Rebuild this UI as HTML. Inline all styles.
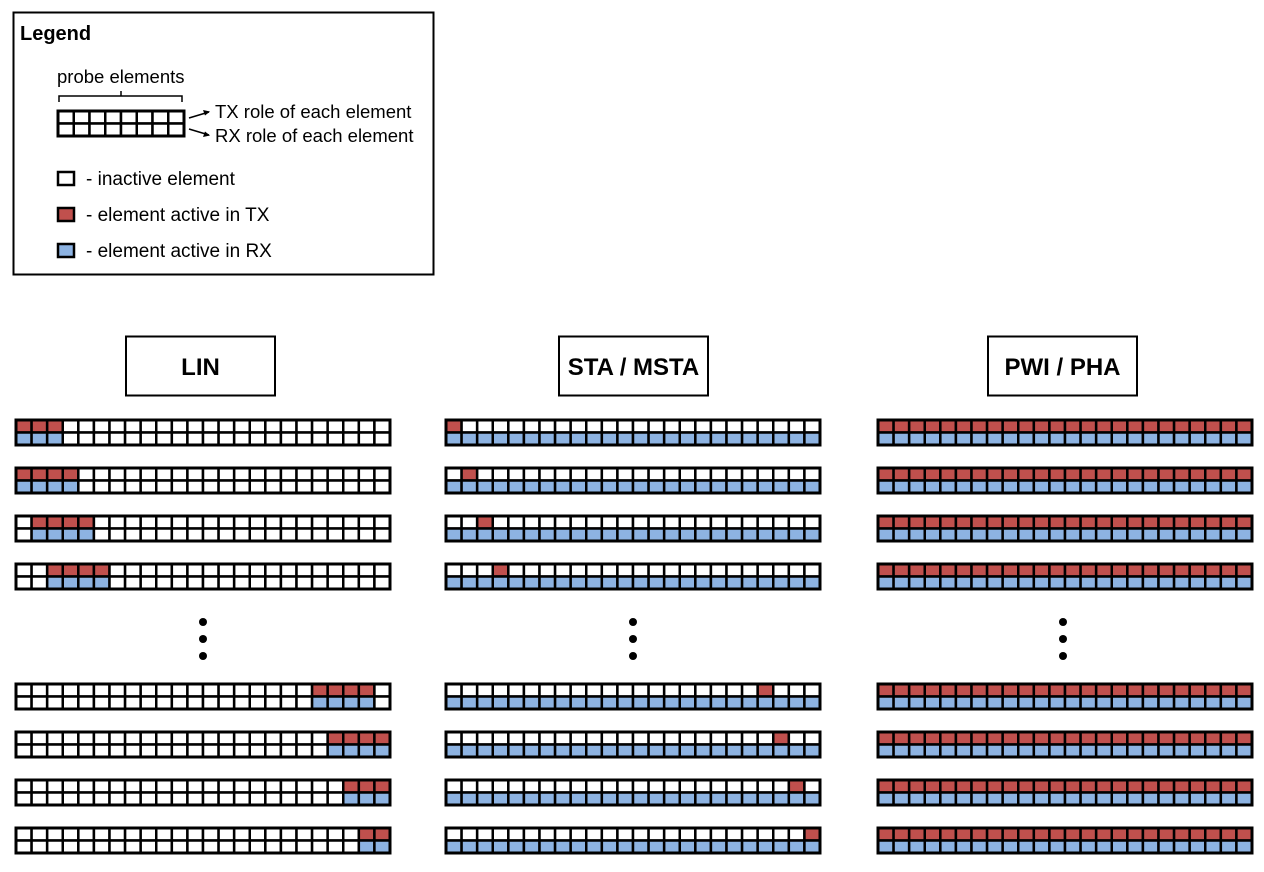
<!DOCTYPE html>
<html><head><meta charset="utf-8">
<style>
html,body{margin:0;padding:0;background:#fff;}
svg{display:block;}
text{font-family:"Liberation Sans",sans-serif;}
</style></head>
<body>
<svg id="s" width="1264" height="872" viewBox="0 0 1264 872" xmlns="http://www.w3.org/2000/svg">
<rect x="13.5" y="12.5" width="420" height="262" fill="#fff" stroke="#000" stroke-width="2"/>
<text x="20" y="40" font-size="20" font-weight="bold">Legend</text>
<text x="57" y="83" font-size="18.5">probe elements</text>
<path d="M59,102 V96 H121 V91 M121,96 H182 V102" fill="none" stroke="#000" stroke-width="1.5"/>
<g id="legarr"></g>
<path d="M189,118 L209,112" stroke="#000" stroke-width="1.5"/>
<path d="M210,111.5 L203,110 L205,115.5 Z" fill="#000"/>
<path d="M189,129 L209,135" stroke="#000" stroke-width="1.5"/>
<path d="M210,135.5 L205,131.5 L203,137 Z" fill="#000"/>
<text x="215" y="118" font-size="18.5">TX role of each element</text>
<text x="215" y="142" font-size="18.5">RX role of each element</text>
<rect x="58" y="172" width="16" height="13" fill="#fff" stroke="#000" stroke-width="2.5"/>
<text x="86" y="185" font-size="19">- inactive element</text>
<rect x="58" y="208" width="16" height="13" fill="#c0504d" stroke="#000" stroke-width="2.5"/>
<text x="86" y="221" font-size="19">- element active in TX</text>
<rect x="58" y="244" width="16" height="13" fill="#8db3e2" stroke="#000" stroke-width="2.5"/>
<text x="86" y="257" font-size="19">- element active in RX</text>

<rect x="126" y="336.5" width="149" height="59" fill="#fff" stroke="#000" stroke-width="2"/>
<text x="200.5" y="375" font-size="24" font-weight="bold" text-anchor="middle">LIN</text>
<rect x="559" y="336.5" width="149" height="59" fill="#fff" stroke="#000" stroke-width="2"/>
<text x="633.5" y="375" font-size="24" font-weight="bold" text-anchor="middle">STA / MSTA</text>
<rect x="988" y="336.5" width="149" height="59" fill="#fff" stroke="#000" stroke-width="2"/>
<text x="1062.5" y="375" font-size="24" font-weight="bold" text-anchor="middle">PWI / PHA</text>

<g fill="#000">
<circle cx="203" cy="622" r="4"/><circle cx="203" cy="639" r="4"/><circle cx="203" cy="656" r="4"/>
<circle cx="633" cy="622" r="4"/><circle cx="633" cy="639" r="4"/><circle cx="633" cy="656" r="4"/>
<circle cx="1063" cy="622" r="4"/><circle cx="1063" cy="639" r="4"/><circle cx="1063" cy="656" r="4"/>
</g>
<g id="arrays"></g>
</svg>
<script>
var NS="http://www.w3.org/2000/svg";
var R="#c0504d",B="#8db3e2";
function arr(g,x,y,n,w,h,tx,rx){
  var cw=w/n,ch=h/2;
  for(var r=0;r<2;r++)for(var i=0;i<n;i++){
    var c=document.createElementNS(NS,"rect");
    c.setAttribute("x",x+i*cw);c.setAttribute("y",y+r*ch);
    c.setAttribute("width",cw);c.setAttribute("height",ch);
    var act=(r==0?tx:rx)(i);
    c.setAttribute("fill",act?(r==0?R:B):"#fff");
    c.setAttribute("stroke","#000");c.setAttribute("stroke-width","2.5");
    g.appendChild(c);
  }
  var o=document.createElementNS(NS,"rect");
  o.setAttribute("x",x);o.setAttribute("y",y);o.setAttribute("width",w);o.setAttribute("height",h);
  o.setAttribute("fill","none");o.setAttribute("stroke","#000");o.setAttribute("stroke-width","3");
  g.appendChild(o);
}
var g=document.getElementById("arrays");
arr(document.getElementById("legarr"),58,111,8,126,25,function(){return 0},function(){return 0});
var ys=[420,468,516,564,684,732,780,828];
var lin=[[0,2],[0,3],[1,4],[2,5],[19,22],[20,23],[21,23],[22,23]];
var sta=[0,1,2,3,20,21,22,23];
for(var k=0;k<8;k++){
  (function(k){
    var a=lin[k];
    var f=function(i){return i>=a[0]&&i<=a[1]};
    arr(g,16,ys[k],24,374,25,f,f);
    arr(g,446,ys[k],24,374,25,function(i){return i==sta[k]},function(){return 1});
    arr(g,878,ys[k],24,374,25,function(){return 1},function(){return 1});
  })(k);
}
</script>
</body></html>
